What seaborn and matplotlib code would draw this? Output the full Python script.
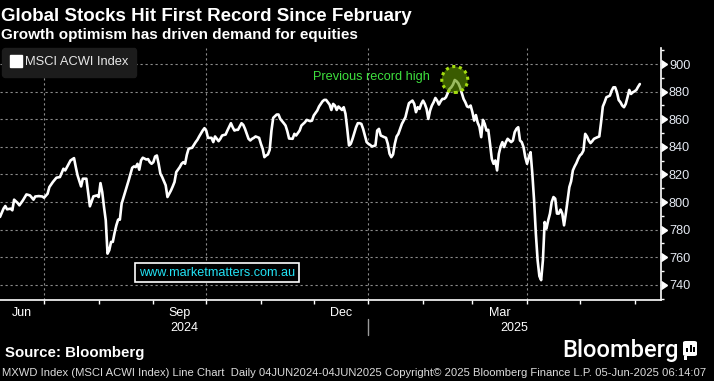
import numpy as np
import pandas as pd
import matplotlib
matplotlib.use("Agg")
import matplotlib.pyplot as plt
import matplotlib.dates as mdates
import matplotlib.transforms as mtransforms
from matplotlib.patches import Circle, FancyBboxPatch, Rectangle
from matplotlib.lines import Line2D
from matplotlib.ticker import MultipleLocator, NullFormatter
import seaborn as sns

# ---------------- data ----------------
start_date = "2024-06-04"
days = [2, 4, 5, 6, 8, 9, 10, 12, 13, 15, 17, 19, 21, 22, 24, 26, 27, 29, 30, 32,
        34, 36, 38, 39, 41, 42, 44, 45, 46, 48, 49, 51, 52, 53, 55, 57, 58, 59, 60, 61,
        62, 63, 64, 65, 66, 67, 68, 69, 70, 71, 73, 75, 77, 78, 79, 80, 81, 82, 83, 85,
        86, 87, 88, 89, 90, 91, 92, 93, 94, 95, 96, 97, 98, 99, 100, 101, 102, 104, 105, 106,
        107, 108, 109, 110, 111, 113, 114, 115, 117, 118, 119, 120, 122, 123, 124, 125, 126, 127, 128, 130,
        131, 133, 134, 135, 136, 137, 139, 140, 141, 143, 144, 145, 146, 147, 149, 150, 151, 152, 153, 154,
        155, 156, 157, 159, 160, 161, 163, 164, 165, 166, 168, 169, 170, 172, 173, 175, 176, 178, 179, 180,
        182, 183, 185, 186, 187, 188, 189, 190, 191, 192, 193, 194, 196, 197, 198, 199, 200, 201, 202, 203,
        204, 205, 206, 207, 208, 209, 210, 211, 212, 213, 215, 216, 217, 218, 220, 221, 222, 223, 224, 225,
        226, 227, 228, 229, 230, 232, 233, 234, 236, 237, 238, 239, 240, 241, 242, 243, 244, 245, 246, 247,
        248, 249, 250, 251, 252, 253, 254, 255, 257, 258, 259, 260, 261, 262, 263, 264, 265, 266, 267, 268,
        269, 270, 271, 272, 273, 274, 275, 276, 277, 278, 279, 280, 281, 282, 283, 284, 285, 286, 287, 288,
        289, 290, 291, 292, 293, 294, 295, 296, 297, 298, 299, 300, 301, 302, 303, 304, 305, 306, 307, 308,
        309, 310, 311, 312, 313, 314, 315, 316, 317, 318, 319, 320, 321, 322, 323, 324, 325, 326, 327, 328,
        329, 330, 331, 332, 333, 334, 335, 336, 337, 338, 339, 341, 342, 343, 344, 345, 346, 348, 349, 350,
        351, 352, 353, 354, 355, 356, 357, 358, 359, 360, 361, 362, 363, 364, 365]
index_level = [789.2, 795.2, 797.1, 794.7, 795.2, 794.0, 801.7, 799.3, 797.6, 801.2, 805.5, 804.8, 801.7, 804.0, 804.3, 804.0, 803.1, 806.0, 810.8, 814.5,
               817.6, 818.1, 824.1, 822.9, 827.7, 830.1, 831.8, 825.3, 819.3, 811.3, 816.9, 816.9, 807.2, 796.9, 804.1, 804.8, 803.6, 813.7, 807.2, 796.4,
               786.7, 762.6, 765.1, 771.1, 771.1, 777.6, 783.1, 787.2, 787.2, 798.8, 807.2, 815.7, 824.8, 825.8, 825.3, 827.7, 823.4, 830.1, 832.1, 830.8,
               831.1, 828.9, 827.7, 828.9, 833.0, 833.7, 827.7, 820.5, 818.1, 815.0, 812.1, 803.6, 806.0, 808.4, 811.3, 814.5, 821.7, 825.3, 827.7, 828.9,
               827.7, 834.2, 838.6, 839.0, 839.3, 843.4, 845.1, 847.5, 851.8, 853.5, 851.8, 846.5, 846.5, 843.4, 847.5, 845.8, 844.1, 845.8, 848.2, 848.9,
               851.8, 857.1, 854.2, 851.8, 852.3, 852.3, 857.1, 855.9, 853.0, 845.8, 844.6, 845.8, 846.5, 847.5, 846.5, 842.2, 838.6, 832.5, 833.7, 834.5,
               837.8, 851.8, 861.0, 863.4, 863.4, 860.2, 857.1, 855.4, 851.3, 846.0, 845.8, 849.4, 848.2, 851.8, 855.4, 857.8, 859.5, 858.6, 859.0, 862.7,
               866.3, 869.2, 873.0, 874.0, 874.0, 872.3, 870.6, 866.7, 871.1, 869.9, 866.7, 869.2, 866.7, 868.7, 863.9, 853.0, 841.0, 842.2, 845.8, 849.9,
               854.2, 857.1, 857.1, 856.6, 853.0, 848.2, 843.4, 842.2, 841.4, 840.2, 841.0, 851.8, 853.0, 848.2, 847.0, 846.5, 842.2, 835.0, 832.5, 834.5,
               842.2, 847.5, 849.4, 853.0, 856.6, 861.4, 866.7, 871.6, 873.5, 871.1, 865.1, 868.7, 867.5, 871.1, 873.5, 871.1, 867.5, 860.2, 866.3, 869.9,
               872.3, 875.4, 873.5, 870.6, 873.0, 874.7, 874.7, 875.9, 881.9, 883.1, 885.1, 888.4, 887.5, 886.0, 883.1, 878.8, 874.7, 872.3, 869.2, 868.7,
               869.9, 865.1, 859.0, 863.0, 857.5, 854.5, 847.0, 859.5, 856.6, 851.8, 852.3, 842.2, 831.3, 827.7, 830.1, 822.9, 834.9, 840.2, 843.4, 839.8,
               843.4, 845.8, 844.6, 843.4, 844.6, 850.6, 853.0, 854.2, 844.6, 843.4, 839.8, 832.5, 827.7, 832.5, 836.1, 820.5, 801.2, 777.1, 757.8, 746.3,
               743.4, 757.8, 785.5, 780.7, 786.7, 791.6, 800.0, 803.6, 802.4, 791.6, 791.6, 794.5, 791.6, 783.1, 791.6, 801.2, 810.8, 815.0, 822.9, 825.8,
               828.2, 831.3, 833.7, 834.9, 837.3, 849.4, 847.5, 844.6, 842.7, 844.1, 845.8, 847.0, 847.5, 857.8, 869.2, 872.3, 875.9, 877.1, 880.7, 883.1,
               883.1, 879.5, 873.9, 872.3, 869.9, 868.7, 871.1, 875.9, 881.2, 878.3, 879.5, 880.2, 881.2, 883.5, 885.5]
series_name = "MSCI ACWI Index"
y_ticks = [740, 760, 780, 800, 820, 840, 860, 880, 900]
month_labels = ["Jun", "Sep", "Dec", "Mar"]
month_label_starts = ["2024-06-01", "2024-09-01", "2024-12-01", "2025-03-01"]
year_labels = ["2024", "2025"]
year_break = "2025-01-01"

title = "Global Stocks Hit First Record Since February"
subtitle = "Growth optimism has driven demand for equities"
annotation_text = "Previous record high"
source_text = "Source: Bloomberg"
watermark = "www.marketmatters.com.au"
footer = ("MXWD Index (MSCI ACWI Index) Line Chart  Daily 04JUN2024-04JUN2025 "
          "Copyright\u00a9 2025 Bloomberg Finance L.P. 05-Jun-2025 06:14:07")

# ---------------- style ----------------
sns.set_theme(style="dark")
plt.rcParams["font.family"] = ["Liberation Sans", "DejaVu Sans"]

W, H = 714, 381
def fx(x):
    return x / W
def fy(y):
    return 1 - y / H

t0 = pd.Timestamp(start_date)
dates = t0 + pd.to_timedelta(days, unit="D")
df = pd.DataFrame({"date": dates, "level": index_level, "series": series_name})

fig = plt.figure(figsize=(W / 100, H / 100), dpi=100, facecolor="black")
ax = fig.add_axes([fx(0), fy(300), 661 / W, 252 / H])
ax.set_facecolor("black")

sns.lineplot(data=df, x="date", y="level", color="white", lw=1.9, ax=ax,
             legend=False, zorder=3)

x0 = t0 + pd.Timedelta(days=2)
x1 = t0 + pd.Timedelta(days=377)
ax.set_xlim(x0, x1)
ax.set_ylim(729, 911.6)
ax.set_xlabel("")
ax.set_ylabel("")

# spines
for s in ["left", "top"]:
    ax.spines[s].set_visible(False)
for s in ["right", "bottom"]:
    ax.spines[s].set_visible(True)
    ax.spines[s].set_color("white")
    ax.spines[s].set_linewidth(1.2)

# x axis ticks
ax.xaxis.set_major_locator(mdates.MonthLocator(bymonth=[1, 4, 7, 10]))
ax.xaxis.set_minor_locator(mdates.MonthLocator())
ax.xaxis.set_major_formatter(NullFormatter())
ax.xaxis.set_minor_formatter(NullFormatter())
ax.tick_params(axis="x", which="both", length=3, width=1, color="white",
               direction="out", bottom=True)

# y axis on the right
ax.yaxis.tick_right()
ax.set_yticks(y_ticks)
ax.yaxis.set_minor_locator(MultipleLocator(10))
ax.tick_params(axis="y", which="major", length=4.5, width=1, color="white",
               pad=1.2, labelsize=9.2, labelcolor="#e4e9f2", right=True, left=False)
ax.tick_params(axis="y", which="minor", length=2.5, width=1, color="white",
               direction="out", right=True, left=False)
for t in ax.yaxis.get_major_ticks():
    t.tick2line.set_marker(9)
    t.tick2line.set_markersize(6)
    t.tick2line.set_markerfacecolor("white")
    t.tick2line.set_markeredgecolor("white")

# grid
ax.grid(False)
ax.grid(True, which="major", axis="both", color="#8c8c8c",
        linestyle=(0, (2, 2.5)), linewidth=0.8, zorder=1)

# month / year labels
trans = mtransforms.blended_transform_factory(ax.transData, ax.transAxes)
for lab, ms in zip(month_labels, month_label_starts):
    s = max(pd.Timestamp(ms), x0)
    e = pd.Timestamp(ms) + pd.offsets.MonthBegin(1)
    mid = s + (e - s) / 2
    ax.text(mid, -0.052, lab, transform=trans, ha="center", va="center",
            color="white", fontsize=9)
yb = pd.Timestamp(year_break)
for lab, (a, b) in zip(year_labels, [(x0, yb), (yb, x1)]):
    mid = a + (b - a) / 2
    ax.text(mid, -0.112, lab, transform=trans, ha="center", va="center",
            color="white", fontsize=9)
ax.add_line(Line2D([yb, yb], [-0.075, -0.14], transform=trans, color="#9a9a9a",
                   lw=1, clip_on=False))

# legend
handle = Line2D([], [], marker="s", color="white", ls="none", markersize=8)
leg = ax.legend(handles=[handle], labels=[series_name], loc="upper left",
                bbox_to_anchor=(fx(2), fy(48)), bbox_transform=fig.transFigure,
                borderaxespad=0, borderpad=0.65, handlelength=0.8,
                handletextpad=0.3, fontsize=9.3, frameon=True, fancybox=True,
                facecolor="#1c1c1c", edgecolor="#1c1c1c", framealpha=1)
for txt in leg.get_texts():
    txt.set_color("#e8e8e8")

# record-high annotation
pre = df[df["date"] < pd.Timestamp("2025-03-01")]
rec = pre.loc[pre["level"].idxmax()]
circ_tr = fig.dpi_scale_trans + mtransforms.ScaledTranslation(
    mdates.date2num(rec["date"]), rec["level"], ax.transData)
circ = Circle((0, 0.005), radius=0.13, transform=circ_tr, facecolor="#5f9400",
              alpha=0.62, edgecolor="none", zorder=4)
circ_edge = Circle((0, 0.005), radius=0.13, transform=circ_tr, facecolor="none",
                   edgecolor="#a4dc10", lw=2.2, ls=(0, (1, 1.2)), zorder=5)
ax.add_artist(circ)
ax.add_artist(circ_edge)
ax.annotate(annotation_text, xy=(rec["date"], rec["level"]),
            xytext=(-25, 3), textcoords="offset pixels", ha="right", va="center",
            color="#3ee03e", fontsize=9.2)

# watermark
fig.text(fx(217), fy(272.5), watermark, ha="center", va="center",
         color="#22e2f4", fontsize=9.1,
         bbox=dict(boxstyle="square,pad=0.3", fc="black", ec="white", lw=1.2))

# titles
fig.text(fx(1), fy(21), title, ha="left", va="baseline", color="white",
         fontsize=13.5, fontweight="bold")
fig.text(fx(1), fy(38.5), subtitle, ha="left", va="baseline", color="white",
         fontsize=11, fontweight="bold")

# bottom texts
fig.text(fx(5), fy(357), source_text, ha="left", va="baseline", color="white",
         fontsize=10.8, fontweight="bold")
fig.text(fx(562), fy(357), "Bloomberg", ha="left", va="baseline", color="white",
         fontsize=17, family=["Roboto", "Liberation Sans"], fontweight="medium")
icon = FancyBboxPatch((fx(683), fy(356)), 14 / W, 15 / H, transform=fig.transFigure,
                      boxstyle="round,pad=0,rounding_size=0.004", fc="white",
                      ec="none")
fig.patches.append(icon)
for bx, bh in [(686, 4), (689.5, 7), (693, 5)]:
    fig.patches.append(Rectangle((fx(bx), fy(352)), 2 / W, bh / H,
                                 transform=fig.transFigure, fc="black", ec="none"))
fig.patches.append(Rectangle((fx(684), fy(360)), 3 / W, 4 / H,
                             transform=fig.transFigure, fc="white", ec="none"))

ft = fig.text(fx(2), fy(376.5), footer, ha="left", va="baseline",
              color="#dcdcdc", fontsize=8)
fig.canvas.draw()
bb = ft.get_window_extent()
ft.set_fontsize(8 * 709 / bb.width)

fig.savefig("out.png", dpi=100, facecolor="black")
